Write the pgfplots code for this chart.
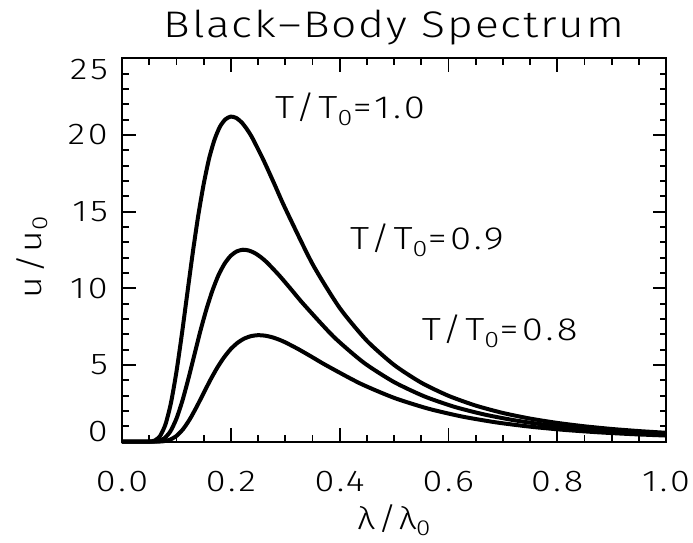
\documentclass[border=0pt]{standalone}
\usepackage{fontspec}
\setmainfont{Fira Sans}[UprightFont={* Light}, FakeStretch=1.2, LetterSpace=10]
\newfontfamily\titlefont{Fira Sans}[UprightFont={* Light}, FakeStretch=1.2, LetterSpace=5]
\usepackage{pgfplots}
\pgfplotsset{compat=1.18}

% u/u0 versus lambda/lambda0 for three temperatures
\pgfplotstableread{
x      u
0.0    0.0
0.04   0.0001
0.05   0.0066
0.06   0.074
0.07   0.372
0.08   1.137
0.09   2.531
0.10   4.540
0.11   6.997
0.12   9.662
0.13   12.30
0.14   14.71
0.15   16.77
0.16   18.45
0.17   19.69
0.18   20.54
0.19   21.02
0.20   21.20
0.21   21.11
0.22   20.82
0.23   20.36
0.24   19.78
0.26   18.37
0.28   16.81
0.30   15.22
0.35   11.60
0.40   8.73
0.45   6.59
0.50   5.01
0.55   3.850
0.60   2.995
0.65   2.357
0.70   1.875
0.75   1.508
0.80   1.226
0.85   1.005
0.90   0.831
0.95   0.693
1.00   0.582
}\tten

\pgfplotstableread{
x       u
0.0     0.0
0.0444  0.0001
0.0556  0.0039
0.0667  0.0437
0.0778  0.2197
0.0889  0.6716
0.1000  1.4945
0.1111  2.6808
0.1222  4.1317
0.1333  5.7053
0.1444  7.2630
0.1556  8.6858
0.1667  9.9025
0.1778  10.894
0.1889  11.627
0.2000  12.129
0.2111  12.412
0.2222  12.518
0.2333  12.465
0.2444  12.294
0.2556  12.022
0.2667  11.680
0.2889  10.847
0.3111  9.926
0.3333  8.987
0.3889  6.850
0.4444  5.155
0.5000  3.891
0.5556  2.958
0.6111  2.273
0.6667  1.769
0.7222  1.392
0.7778  1.107
0.8333  0.890
0.8889  0.724
0.9444  0.593
1.0000  0.491
}\tnine

\pgfplotstableread{
x       u
0.0     0.0
0.05    0.0000
0.0625  0.0022
0.075   0.0242
0.0875  0.1219
0.1000  0.3727
0.1125  0.8294
0.1250  1.4877
0.1375  2.2928
0.1500  3.1661
0.1625  4.0305
0.1750  4.8200
0.1875  5.4952
0.2000  6.0444
0.2125  6.4520
0.2250  6.7297
0.2375  6.8878
0.2500  6.9468
0.2625  6.9173
0.2750  6.8223
0.2875  6.6716
0.3000  6.4815
0.3250  6.0195
0.3500  5.5083
0.3750  4.9873
0.4375  3.8011
0.5000  2.8606
0.5625  2.1594
0.6250  1.6417
0.6875  1.2616
0.7500  0.9814
0.8125  0.7723
0.8750  0.6144
0.9375  0.4941
1.0000  0.4017
}\teight

\begin{document}
\begin{tikzpicture}
\useasboundingbox (0,0) rectangle (693pt,542pt);
\begin{axis}[
    at={(122pt,100.3pt)}, anchor=south west,
    scale only axis,
    width=544pt, height=383.4pt,
    xmin=0, xmax=1, ymin=0, ymax=25,
    clip=false,
    axis line style={line width=1.8pt},
    tick pos=both, tick align=inside,
    xtick={0,0.2,0.4,0.6,0.8,1.0},
    xticklabels={0.0,0.2,0.4,0.6,0.8,1.0},
    minor x tick num=3,
    ytick={0,5,10,15,20,25},
    yticklabel={\ifcase\ticknum \raisebox{9.7pt}[\height][\depth]{0}\or 5\or 10\or 15\or 20\or \raisebox{-11.7pt}[\height][\depth]{25}\fi},
    minor y tick num=4,
    major tick length=13.5pt, minor tick length=6.5pt,
    tick style={black, line width=1.8pt},
    tick label style={font=\fontsize{30}{36}\selectfont, inner sep=0pt},
    x tick label style={anchor=base, yshift=-49.3pt},
    y tick label style={anchor=east, xshift=-14pt},
    title={\titlefont Black\kern2pt–\kern2pt Body Spectrum},
    every axis title/.style={at={(axis description cs:0.5,1)}, anchor=base, yshift=20.3pt,
        font=\fontsize{37}{44}\selectfont, inner sep=0pt},
    xlabel={λ/λ\textsubscript{0}},
    every axis x label/.style={at={(axis description cs:0.5,0)}, anchor=base, yshift=-88pt,
        font=\fontsize{31}{37}\selectfont, inner sep=0pt},
    ylabel={u/u\textsubscript{0}},
    every axis y label/.style={at={(axis description cs:-0.1476,0.482)}, rotate=90, anchor=base,
        font=\fontsize{31}{37}\selectfont, inner sep=0pt},
]
\addplot[black, line width=4pt, smooth, tension=0.4] table[x=x, y=u] {\tten};
\addplot[black, line width=4pt, smooth, tension=0.4] table[x=x, y=u] {\tnine};
\addplot[black, line width=4pt, smooth, tension=0.4] table[x=x, y=u] {\teight};
\node[anchor=base west, inner sep=0pt, font=\fontsize{32}{38}\selectfont] at (axis cs:0.281,21.06) {T/T\textsubscript{0}=1.0};
\node[anchor=base west, inner sep=0pt, font=\fontsize{32}{38}\selectfont] at (axis cs:0.419,12.51) {T/T\textsubscript{0}=0.9};
\node[anchor=base west, inner sep=0pt, font=\fontsize{32}{38}\selectfont] at (axis cs:0.551,6.57) {T/T\textsubscript{0}=0.8};
\end{axis}
\end{tikzpicture}
\end{document}
